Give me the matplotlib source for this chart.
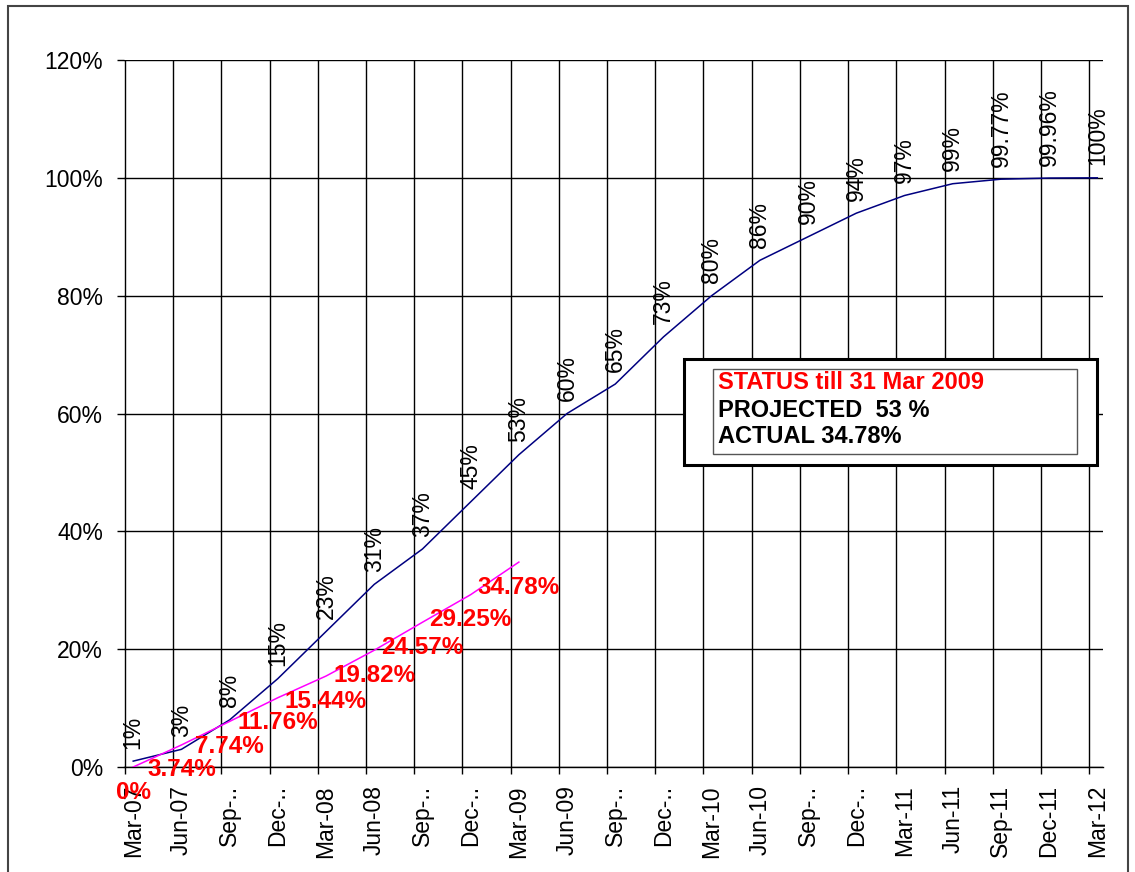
#!/usr/bin/env python3
"""Projected vs actual cumulative progress, Mar-07 .. Mar-12 (quarterly)."""
import numpy as np
import matplotlib
matplotlib.use("Agg")
import matplotlib.pyplot as plt
from matplotlib.patches import Rectangle
from matplotlib.ticker import FuncFormatter

plt.rcParams["font.family"] = ["Liberation Sans", "DejaVu Sans"]

quarters = ["Mar-07", "Jun-07", "Sep-..", "Dec-..", "Mar-08", "Jun-08", "Sep-..",
            "Dec-..", "Mar-09", "Jun-09", "Sep-..", "Dec-..", "Mar-10", "Jun-10",
            "Sep-..", "Dec-..", "Mar-11", "Jun-11", "Sep-11", "Dec-11", "Mar-12"]
projected = [1, 3, 8, 15, 23, 31, 37, 45, 53, 60, 65, 73, 80, 86, 90, 94, 97, 99,
             99.77, 99.96, 100]
projected_labels = ["1%", "3%", "8%", "15%", "23%", "31%", "37%", "45%", "53%", "60%",
                    "65%", "73%", "80%", "86%", "90%", "94%", "97%", "99%", "99.77%",
                    "99.96%", "100%"]
actual = [0, 3.74, 7.74, 11.76, 15.44, 19.82, 24.57, 29.25, 34.78]
actual_labels = ["0%", "3.74%", "7.74%", "11.76%", "15.44%", "19.82%", "24.57%",
                 "29.25%", "34.78%"]
status_lines = ["STATUS till 31 Mar 2009", "PROJECTED  53 %", "ACTUAL 34.78%"]

FS = 16.5

fig = plt.figure(figsize=(11.35, 8.72), dpi=100)
ax = fig.add_axes([0.1093, 0.1204, 0.8626, 0.8108])

x = np.arange(len(quarters))
ax.plot(x, projected, color="#000080", lw=1.1, zorder=3)
ax.plot(x[:len(actual)], actual, color="#FF00FF", lw=1.1, zorder=3)

for xi, yi, lab in zip(x, projected, projected_labels):
    ax.annotate(lab, (xi, yi), xytext=(0, 9), textcoords="offset points",
                rotation=90, ha="center", va="bottom", fontsize=FS, zorder=4)
for xi, yi, lab in zip(x, actual, actual_labels):
    ax.annotate(lab, (xi, yi), xytext=(0, -18), textcoords="offset points",
                ha="center", va="center", fontsize=17.5, fontweight="bold",
                color="#FF0000", zorder=5, annotation_clip=False)

ax.set_xlim(-0.19, 20.12)
ax.set_ylim(0, 120)
ax.set_yticks(np.arange(0, 121, 20))
ax.yaxis.set_major_formatter(FuncFormatter(lambda v, _: f"{v:.0f}%"))
ax.tick_params(axis="y", direction="out", length=5, width=1, pad=10, labelsize=FS)

ax.set_xticks(x)
ax.set_xticklabels(quarters, rotation=90, fontsize=FS)
ax.set_xticks(x - 0.17, minor=True)
ax.tick_params(axis="x", which="major", length=0, pad=13)
ax.tick_params(axis="x", which="minor", direction="out", length=5, width=1)

ax.grid(True, axis="y", color="black", lw=1)
ax.grid(True, axis="x", which="minor", color="black", lw=1)
ax.grid(False, axis="x", which="major")
ax.set_axisbelow(True)
for side in ("top", "right", "left"):
    ax.spines[side].set_visible(False)
ax.spines["bottom"].set_linewidth(1)

# status box
ax.add_patch(Rectangle((0.6026, 0.4667), 0.3639, 0.1216, transform=fig.transFigure,
                       facecolor="white", edgecolor="black", lw=2.2, zorder=6,
                       clip_on=False))
ax.add_patch(Rectangle((0.6282, 0.4794), 0.3207, 0.0975, transform=fig.transFigure,
                       facecolor="white", edgecolor="#555555", lw=1, zorder=7,
                       clip_on=False))
for yy, txt, col in zip([0.5608, 0.5287, 0.4989], status_lines, ["#FF0000", "black", "black"]):
    fig.text(0.6326, yy, txt, color=col, fontsize=17, fontweight="bold",
             va="center", ha="left", zorder=8)

# outer chart border
fig.patches.append(Rectangle((0.007, -0.05), 0.9868, 1.043, transform=fig.transFigure,
                             fill=False, edgecolor="#444444", lw=1.5))

fig.savefig("out.png", dpi=100)
